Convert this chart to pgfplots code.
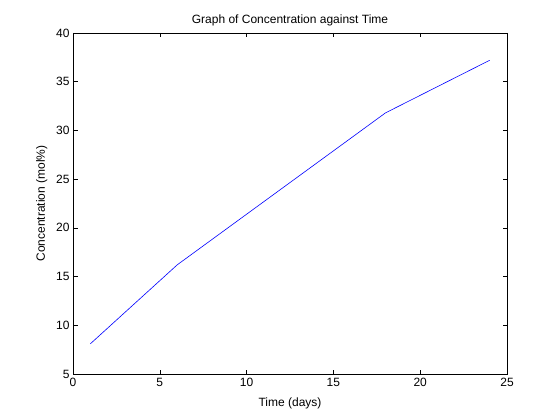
\documentclass[border=0pt]{standalone}
\usepackage{pgfplots}
\pgfplotsset{compat=1.18}
\usepackage{fontspec}
\setmainfont{Liberation Sans}

\begin{document}
\begin{tikzpicture}
\path[use as bounding box, fill=white] (-73bp,-46bp) rectangle (487bp,374bp);
\begin{axis}[
    at={(0,0)}, anchor=south west,
    scale only axis,
    width=434bp, height=341bp,
    xmin=0, xmax=25,
    ymin=5, ymax=40,
    xtick={0,5,...,25},
    ytick={5,10,...,40},
    major tick length=4.5bp,
    tick style={black, line width=0.5bp},
    axis line style={line width=0.6bp},
    font=\fontsize{12bp}{14bp}\selectfont,
    /pgf/number format/assume math mode=true,
    xticklabel style={yshift=-1bp},
    title={Graph of Concentration against Time},
    xlabel={Time (days)},
    ylabel={Concentration (mol\%)},
    title style={yshift=-2bp},
    xlabel style={yshift=-4bp},
    ylabel style={yshift=2bp},
]
\addplot[color=blue, line width=0.6bp] coordinates {
    (1,8.1) (6,16.2) (18,31.8) (24,37.2)
};
\end{axis}
\end{tikzpicture}
\end{document}
